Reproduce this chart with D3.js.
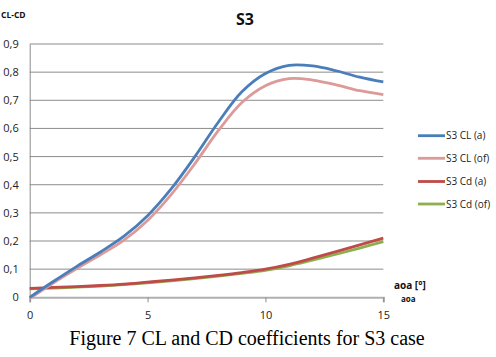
<!DOCTYPE html>
<html><head><meta charset="utf-8">
<script src="https://cdn.jsdelivr.net/npm/d3@7"></script>
<style>body{margin:0;background:#fff}svg{display:block}</style>
</head><body>
<svg id="c" width="496" height="357"></svg>
<script>
const aoa = [0,1,2,3,4,5,6,7,8,9,10,11,12,13,14,15];
const clA  = [0.0,0.056,0.11,0.161,0.217,0.29,0.385,0.499,0.622,0.73,0.795,0.824,0.822,0.805,0.782,0.765];
const clOf = [-0.004,0.051,0.102,0.151,0.203,0.273,0.365,0.474,0.592,0.692,0.752,0.777,0.772,0.755,0.734,0.72];
const cdA  = [0.032,0.035,0.038,0.042,0.047,0.054,0.061,0.069,0.078,0.088,0.1,0.117,0.139,0.162,0.186,0.21];
const cdOf = [0.03,0.033,0.036,0.04,0.045,0.051,0.058,0.066,0.075,0.085,0.096,0.112,0.132,0.153,0.175,0.198];
const seriesNames = ["S3 CL (a)","S3 CL (of)","S3 Cd (a)","S3 Cd (of)"];
const seriesColors = ["#4a7ebb","#dc9a99","#be4b48","#8db04f"];
const xTicks = [0,5,10,15];
const yTicks = [0,0.1,0.2,0.3,0.4,0.5,0.6,0.7,0.8,0.9];

const svg = d3.select("#c");
const x = d3.scaleLinear().domain([0,15]).range([29.7,383.3]);
const y = d3.scaleLinear().domain([0,0.9]).range([297.3,44]);
const font = "'Open Sans', 'DejaVu Sans', sans-serif";

// gridlines
svg.append("g").selectAll("line").data(yTicks.filter(d=>d>0)).join("line")
  .attr("x1",x(0)).attr("x2",x(15)).attr("y1",d=>y(d)).attr("y2",d=>y(d))
  .attr("stroke","#8c8c8c").attr("stroke-width",1);

// y axis
const ya = svg.append("g").attr("transform",`translate(${x(0)},0)`)
  .call(d3.axisLeft(y).tickValues(yTicks).tickSize(0).tickPadding(11)
    .tickFormat(d=>d3.format(".1f")(d).replace(".",",").replace(/^0,0$/,"0")));
ya.select(".domain").attr("stroke","#8c8c8c");
ya.selectAll("text").attr("font-family",font).attr("font-size",11).attr("fill","#222");

// x axis
const xa = svg.append("g").attr("transform",`translate(0,${y(0)})`)
  .call(d3.axisBottom(x).tickValues(xTicks).tickSize(5).tickPadding(9).tickFormat(d3.format("d")));
xa.select(".domain").attr("stroke","#b0b0b0").attr("stroke-width",2);
xa.selectAll("line").attr("stroke","#8c8c8c");
xa.selectAll("text").attr("font-family",font).attr("font-size",11).attr("fill","#222");

// lines
const data = [clA, clOf, cdA, cdOf];
const line = d3.line().x((d,i)=>x(aoa[i])).y(d=>y(d)).curve(d3.curveCatmullRom.alpha(0.5));
[3,2,1,0].forEach(k=>{
  svg.append("path").attr("d",line(data[k])).attr("fill","none")
    .attr("stroke",seriesColors[k]).attr("stroke-width",2.8).attr("stroke-linejoin","round");
});

// title
svg.append("text").attr("x",245).attr("y",25).attr("text-anchor","middle")
  .attr("font-family",font).attr("font-weight","bold").attr("font-size",16).attr("fill","#111").text("S3");
svg.append("text").attr("x",1).attr("y",18)
  .attr("font-family",font).attr("font-weight","bold").attr("font-size",8.5).attr("fill","#111").text("CL-CD");

// x axis labels
svg.append("text").attr("x",394).attr("y",288.5)
  .attr("font-family",font).attr("font-weight","bold").attr("font-size",10).attr("fill","#111").text("aoa [°]");
svg.append("text").attr("x",401).attr("y",301.5)
  .attr("font-family",font).attr("font-weight","bold").attr("font-size",8).attr("fill","#111").text("aoa");

// legend
const ly = [135.7,158.3,181.5,204];
const lg = svg.append("g").selectAll("g").data(seriesNames).join("g")
  .attr("transform",(d,i)=>`translate(418,${ly[i]})`);
lg.append("line").attr("x1",0).attr("x2",27).attr("stroke",(d,i)=>seriesColors[i]).attr("stroke-width",2.8);
lg.append("text").attr("x",28).attr("y",3.5).attr("font-family",font).attr("font-size",10).attr("fill","#222").text(d=>d);

// caption
svg.append("text").attr("x",247).attr("y",345).attr("text-anchor","middle")
  .attr("font-family","'Liberation Serif', 'Times New Roman', serif").attr("font-size",20).attr("fill","#000")
  .text("Figure 7 CL and CD coefficients for S3 case");
</script>
</body></html>
